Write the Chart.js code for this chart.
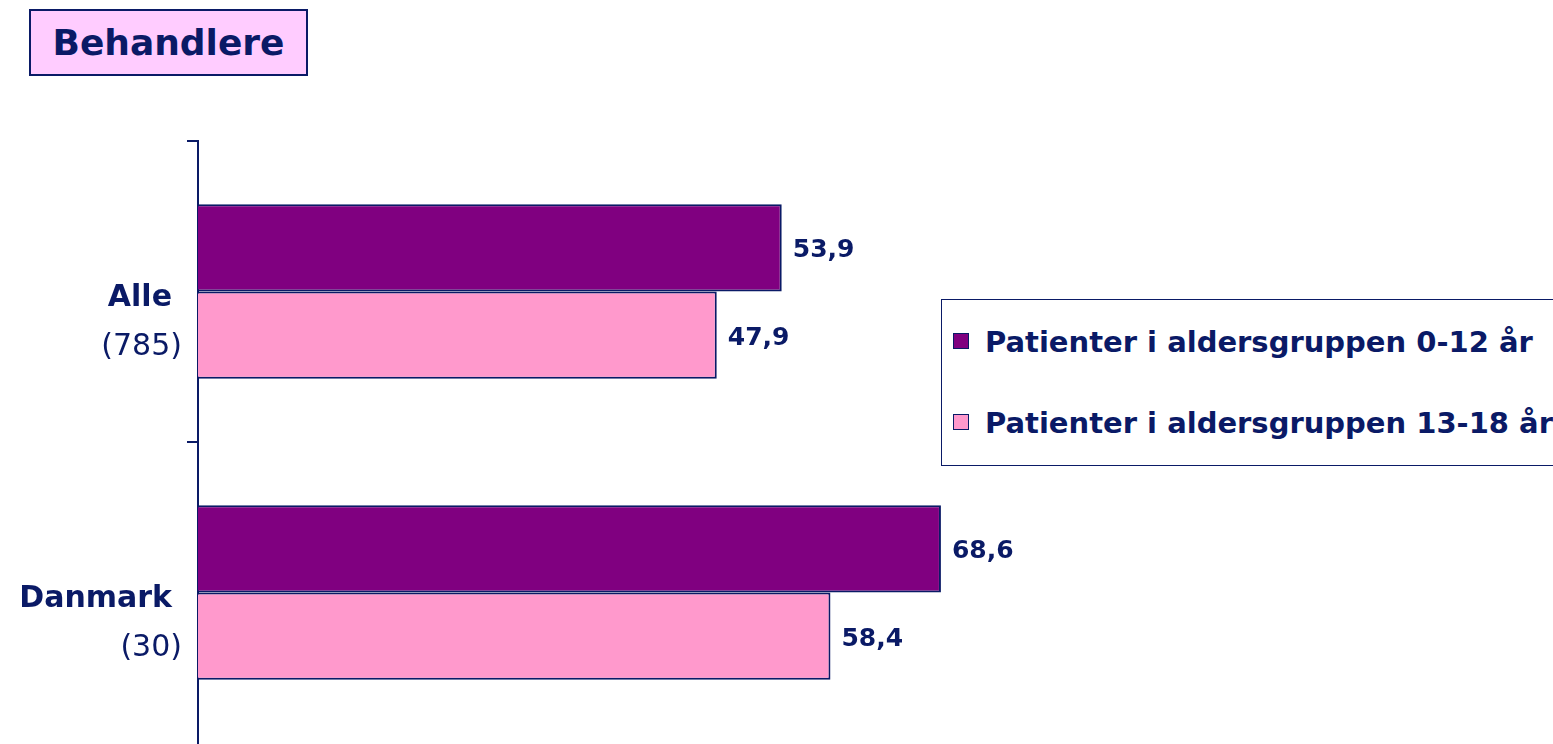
<!DOCTYPE html>
<html>
<head>
<meta charset="utf-8">
<script src="https://cdn.jsdelivr.net/npm/chart.js@4"></script>
<style>
  html, body { margin: 0; padding: 0; background: #fff; overflow: hidden; }
  body { width: 1553px; height: 744px; position: relative; font-family: "DejaVu Sans", sans-serif; color: #0a1a66; }
  #wrap { position: absolute; left: 0; top: 0; width: 1553px; height: 744px; }
  .title {
    position: absolute; left: 29px; top: 9px; width: 275px; height: 63px;
    background: #ffccff; border: 2px solid #0a1a66;
    font: bold 36px "DejaVu Sans", sans-serif; line-height: 63px; text-align: center;
  }
  .legend {
    position: absolute; left: 941px; top: 299px; width: 700px; height: 165px;
    border: 1px solid #0a1a66; background: #fff;
  }
  .item { position: absolute; left: 11px; font: bold 29px "DejaVu Sans", sans-serif; white-space: nowrap; }
  .item span.box { display: inline-block; width: 14px; height: 14px; border: 1px solid #0a1a66; margin-right: 16px; vertical-align: 3px; }
</style>
</head>
<body>
<div id="wrap"><canvas id="c" width="1553" height="744"></canvas></div>
<div class="title">Behandlere</div>
<div class="legend" id="legend"></div>
<script>
const categories = ['Alle', 'Danmark'];
const counts = ['(785)', '(30)'];
const seriesNames = ['Patienter i aldersgruppen 0-12 år', 'Patienter i aldersgruppen 13-18 år'];
const young = [53.9, 68.6];
const teens = [47.9, 58.4];

const navy = '#0a1a66';
const colors = ['#800080', '#ff99cc'];

// legend as html
const legend = document.getElementById('legend');
seriesNames.forEach((name, i) => {
  const d = document.createElement('div');
  d.className = 'item';
  d.style.top = (i === 0 ? 25 : 106) + 'px';
  d.innerHTML = '<span class="box" style="background:' + colors[i] + '"></span>' + name;
  legend.appendChild(d);
});

const fmt = v => v.toFixed(1).replace('.', ',');

const labelsPlugin = {
  id: 'labels',
  afterDatasetsDraw(chart) {
    const ctx = chart.ctx;
    ctx.save();
    ctx.fillStyle = navy;
    ctx.textBaseline = 'middle';
    ctx.textAlign = 'left';
    ctx.font = 'bold 25px "DejaVu Sans"';
    chart.data.datasets.forEach((ds, di) => {
      chart.getDatasetMeta(di).data.forEach((bar, i) => {
        ctx.fillText(fmt(ds.data[i]), bar.x + 11, bar.y + 3);
      });
    });
    // category labels
    const y = chart.scales.y;
    ctx.textAlign = 'right';
    categories.forEach((c, i) => {
      const py = y.getPixelForValue(i);
      ctx.font = 'bold 30px "DejaVu Sans"';
      ctx.fillText(c, 172, py + 7);
      ctx.font = '30px "DejaVu Sans"';
      ctx.fillText(counts[i], 182, py + 56);
    });
    ctx.restore();
  }
};

new Chart(document.getElementById('c'), {
  type: 'bar',
  data: {
    labels: categories,
    datasets: [
      { label: seriesNames[0], data: young, backgroundColor: colors[0], borderColor: navy, borderWidth: 2 },
      { label: seriesNames[1], data: teens, backgroundColor: colors[1], borderColor: navy, borderWidth: 2 }
    ]
  },
  options: {
    indexAxis: 'y',
    responsive: false,
    animation: false,
    categoryPercentage: 0.58,
    barPercentage: 1,
    layout: { padding: { left: 0, right: 272, top: 141, bottom: 1 } },
    plugins: { legend: { display: false }, tooltip: { enabled: false } },
    scales: {
      x: { display: false, min: 0, max: 100 },
      y: {
        afterFit: s => { s.width = 198; },
        ticks: { display: false },
        grid: { drawOnChartArea: false, tickLength: 11, color: c => c.tick ? navy : 'rgba(0,0,0,0)', lineWidth: 2 },
        border: { color: navy, width: 2 }
      }
    }
  },
  plugins: [labelsPlugin]
});
</script>
</body>
</html>
